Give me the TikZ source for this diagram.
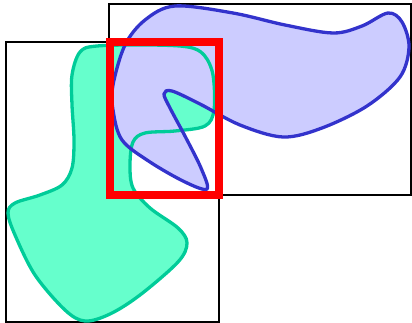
\documentclass[tikz,border=0pt]{standalone}
\definecolor{mintfill}{HTML}{66FFCC}
\definecolor{mintline}{HTML}{00CC99}
\definecolor{lilacfill}{HTML}{CCCCFF}
\definecolor{lilacline}{HTML}{3333CC}
\begin{document}
\begin{tikzpicture}[
		x=1pt, y=-1pt,
		frame/.style={line width=1.5pt, draw=black},
		mint/.style={line width=3.3pt, draw=mintline},
		lilac/.style={line width=3.3pt, draw=lilacline},
		overlap/.style={line width=8pt, draw=red}
		]
		\useasboundingbox (0,0) rectangle (412,323);
		
		% Outlines of the two blobs
		\def\mintblob{plot[smooth cycle, tension=0.55] coordinates {
			(72,75) (80,52) (97,46) (150,45) (188,47) (204,55) (213,75)
			(214,110) (205,126) (175,131) (145,133) (133,142) (130,165)
			(133,188) (150,208) (178,228) (187,243) (178,262) (140,295)
			(110,314) (85,321) (65,310) (35,275) (15,235) (8,213) (15,203)
			(40,195) (62,185) (72,168) (74,140) (72,105)}}
		\def\lilacblob{plot[smooth cycle, tension=0.55] coordinates {
			(175,6) (145,20) (125,45) (113,85) (113,110) (122,140)
			(150,162) (185,182) (207,189) (201,168) (186,138) (170,108)
			(164,94) (172,91) (200,104) (240,125) (283,137) (322,128)
			(367,106) (400,77) (409,47) (402,22) (388,13) (362,26)
			(333,33) (285,25) (233,13)}}
		
		% Draw bounding frames
		\draw[frame] (6,42) rectangle (219,322);
		\draw[frame] (109,4) rectangle (411,195);
		
		% Fill the blobs, then stroke them
		\fill[mintfill] \mintblob;
		\fill[lilacfill] \lilacblob;
		\draw[mint] \mintblob;
		\draw[lilac] \lilacblob;
		
		% Intersection of the frames
		\draw[overlap] (109.5,42) rectangle (219,195);
		
	\end{tikzpicture}
\end{document}
